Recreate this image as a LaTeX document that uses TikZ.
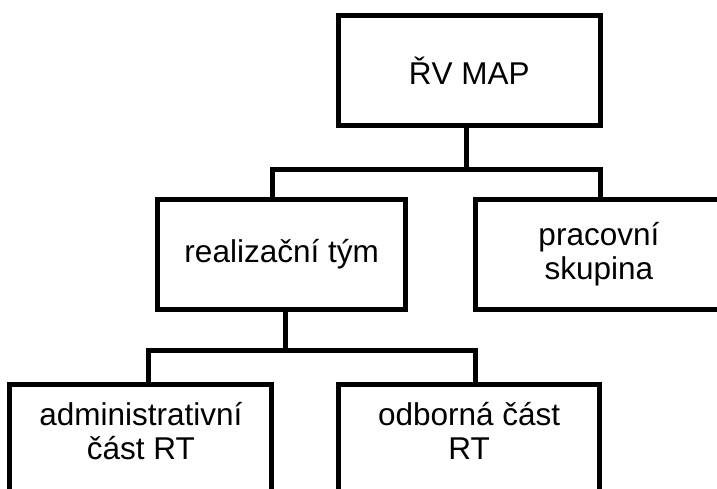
\documentclass[tikz,border=0pt]{standalone}
\usepackage{fontspec}
\setmainfont{Liberation Sans}
\begin{document}
\begin{tikzpicture}[x=1pt,y=-1pt,
  box/.style={draw=black, line width=5pt, rectangle, inner sep=0pt, outer sep=0pt, align=center, font=\fontsize{31.5}{34.5}\selectfont},
  lbl/.style={inner sep=0pt, outer sep=0pt, align=center, font=\fontsize{31.5}{34.5}\selectfont},
  conn/.style={draw=black, line width=5pt, line join=miter, line cap=rect}]
\useasboundingbox (0,0) rectangle (717,489);
\fill[white] (0,0) rectangle (717,489);
\clip (0,0) rectangle (717,489);
% boxes
\node[box, minimum width=261.5pt, minimum height=110pt] (rv) at (469.25,70.8) {ŘV MAP};
\node[box, minimum width=248.3pt, minimum height=109.5pt] (rt) at (281.65,254.25) {realizační tým};
\node[box, minimum width=246.2pt, minimum height=109.5pt] (pr) at (598.9,254.25) {pracovní\\skupina};
\node[box, minimum width=262pt, minimum height=115.8pt] (adm) at (140.8,442.1) {};
\node[box, minimum width=261.3pt, minimum height=115.8pt] (odb) at (469.15,442.1) {};
\node[lbl] (admt) at (140.8,431) {administrativní\\část RT};
\node[lbl] (odbt) at (469.15,431) {odborná část\\RT};
% connectors
\coordinate (j1) at (466,170);
\coordinate (l1) at (272.5,170);
\coordinate (r1) at (600.5,170);
\draw[conn] (rv.south -| j1) -- (j1);
\draw[conn] (rt.north -| l1) -- (l1) -- (r1) -- (pr.north -| r1);
\coordinate (j2) at (285.5,350);
\coordinate (l2) at (148,350);
\coordinate (r2) at (475.5,350);
\draw[conn] (rt.south -| j2) -- (j2);
\draw[conn] (adm.north -| l2) -- (l2) -- (r2) -- (odb.north -| r2);
\end{tikzpicture}
\end{document}
